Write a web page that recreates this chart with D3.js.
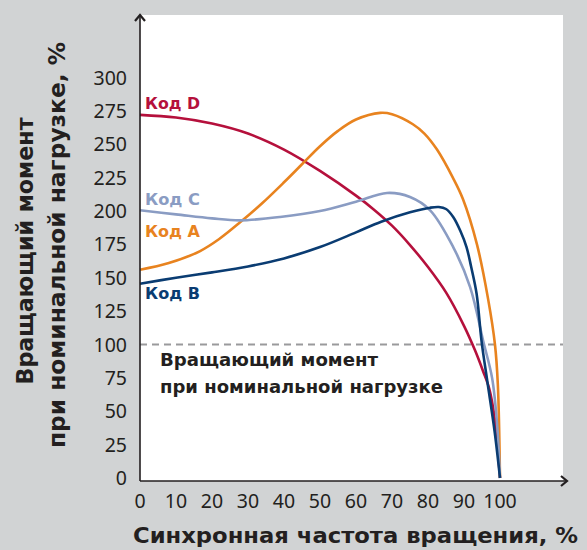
<!DOCTYPE html>
<html><head><meta charset="utf-8">
<script src="https://cdn.jsdelivr.net/npm/d3@7"></script>
<style>
html,body{margin:0;padding:0;background:#d1d3d4;}
svg{display:block;}
</style></head>
<body>
<svg id="chart" width="587" height="550"></svg>
<script>
// ---- data ----
const xTicks = [0,10,20,30,40,50,60,70,80,90,100];
const yTicks = [0,25,50,75,100,125,150,175,200,225,250,275,300];
const ratedTorque = 100;

const codeA_x = [0,8,16.7,22,27.8,34,40,45,50,55,60,66.7,70,75.8,79,82.5,86.9,89.7,93.6,96.7,98.6,99.4,100];
const codeA_y = [156,161,170,179,191.5,206,221.5,235,248.5,260,268.5,273.5,272.5,265,258,246,225,209,175,134,100,70,0];

const codeB_x = [0,10,20,30,40,50,60,67,75,80.6,83,85,87,89,90.7,92,93.5,94.9,96.5,98.5,100];
const codeB_y = [145.5,150,154,158.5,164.5,173,184,192,199,202.5,203,201.5,195.5,185,173,158,138,102,72,35,0];

const codeC_x = [0,10,20,27.8,38.9,50,60,68.6,75,80.6,87,91.7,95.3,97.8,99.2,100];
const codeC_y = [200.5,197.5,194.5,193,195.5,200,207,213.5,210.5,200.5,173,143,103,75,40,0];

const codeD_x = [0,10,20,30,40,50,60,65,70,75,80,85,90,93,95.3,97,98.5,100];
const codeD_y = [272,270,265.5,258,246,230,211.5,201,189,174.5,158,139,114,96,80,67,45,0];

const seriesNames = ["Код A","Код B","Код C","Код D"];
const seriesColors = ["#e8831f","#0a3c72","#8a9cc3","#b5103c"];

const yTitle = ["Вращающий момент","при номинальной нагрузке, %"];
const xTitle = "Синхронная частота вращения, %";
const note = ["Вращающий момент","при номинальной нагрузке"];

// ---- drawing ----
const svg = d3.select("#chart");
const ink = "#231f20";
const x = d3.scaleLinear().domain([0,100]).range([140,500]);
const y = d3.scaleLinear().domain([0,300]).range([478,77.5]);
const axisY0 = 481, axisX0 = 140;

// white plot area
svg.append("rect").attr("x",axisX0).attr("y",15).attr("width",563-axisX0).attr("height",axisY0-15).attr("fill","#fff");

// dashed rated line
svg.append("line").attr("x1",axisX0).attr("x2",563)
  .attr("y1",y(ratedTorque)).attr("y2",y(ratedTorque))
  .attr("stroke","#9a9a9c").attr("stroke-width",2).attr("stroke-dasharray","7,5");

// curves
const seriesX = [codeA_x,codeB_x,codeC_x,codeD_x];
const seriesY = [codeA_y,codeB_y,codeC_y,codeD_y];
const line = d3.line().x(d=>x(d[0])).y(d=>y(d[1])).curve(d3.curveCatmullRom.alpha(0.5));
const order = [3,0,2,1];
order.forEach(i=>{
  const pts = seriesX[i].map((v,j)=>[v,seriesY[i][j]]);
  svg.append("path").attr("d",line(pts)).attr("fill","none")
    .attr("stroke",seriesColors[i]).attr("stroke-width",2.6).attr("stroke-linejoin","round");
});

// axes
const g = svg.append("g");
g.append("line").attr("x1",axisX0).attr("x2",axisX0).attr("y1",axisY0).attr("y2",16).attr("stroke",ink).attr("stroke-width",1.6);
g.append("line").attr("x1",axisX0).attr("x2",566).attr("y1",axisY0).attr("y2",axisY0).attr("stroke",ink).attr("stroke-width",1.6);
g.append("path").attr("d",`M${axisX0-5},${21} L${axisX0},${15} L${axisX0+5},${21}`).attr("fill","none").attr("stroke",ink).attr("stroke-width",2.2);
g.append("path").attr("d",`M561,${axisY0-5} L567,${axisY0} L561,${axisY0+5}`).attr("fill","none").attr("stroke",ink).attr("stroke-width",2.2);

const tickFont = "'Noto Sans', 'Open Sans', sans-serif";
svg.append("g").selectAll("text").data(yTicks).join("text")
  .attr("x",127).attr("y",d=>y(d)).attr("dy","0.36em")
  .attr("text-anchor","end").attr("font-family",tickFont).attr("font-size",19.5).attr("fill",ink)
  .text(d=>d);
svg.append("g").selectAll("text").data(xTicks).join("text")
  .attr("x",d=>x(d)).attr("y",501).attr("dy","0.36em")
  .attr("text-anchor","middle").attr("font-family",tickFont).attr("font-size",19.5).attr("fill",ink)
  .text(d=>d);

const boldFont = "'DejaVu Sans', 'Liberation Sans', Arial, sans-serif";
// series labels
const labelY = [237,299,205,109];
seriesNames.forEach((n,i)=>{
  svg.append("text").attr("x",145).attr("y",labelY[i]).attr("font-family",boldFont)
    .attr("font-weight","bold").attr("font-size",16.5).attr("fill",seriesColors[i])
    .attr("textLength",55).attr("lengthAdjust","spacingAndGlyphs").text(n);
});

// note
const noteW = [218,283];
svg.append("g").selectAll("text").data(note).join("text")
  .attr("x",160).attr("y",(d,i)=>366+i*26.5).attr("font-family",boldFont)
  .attr("font-weight","bold").attr("font-size",18).attr("fill",ink)
  .attr("textLength",(d,i)=>noteW[i]).attr("lengthAdjust","spacingAndGlyphs").text(d=>d);

// axis titles
svg.append("text").attr("x",133).attr("y",543)
  .attr("font-family",boldFont).attr("font-weight","bold").attr("font-size",21.5).attr("fill",ink)
  .attr("textLength",445).attr("lengthAdjust","spacingAndGlyphs").text(xTitle);
const yTitleW = [267,406];
svg.append("g").attr("transform","translate(0,248) rotate(-90)").selectAll("text").data(yTitle).join("text")
  .attr("x",(d,i)=>-yTitleW[i]/2 + (i===0?-3:3)).attr("y",(d,i)=>33+i*32)
  .attr("font-family",boldFont).attr("font-weight","bold").attr("font-size",22.5).attr("fill",ink)
  .attr("textLength",(d,i)=>yTitleW[i]).attr("lengthAdjust","spacingAndGlyphs").text(d=>d);
</script>
</body></html>
